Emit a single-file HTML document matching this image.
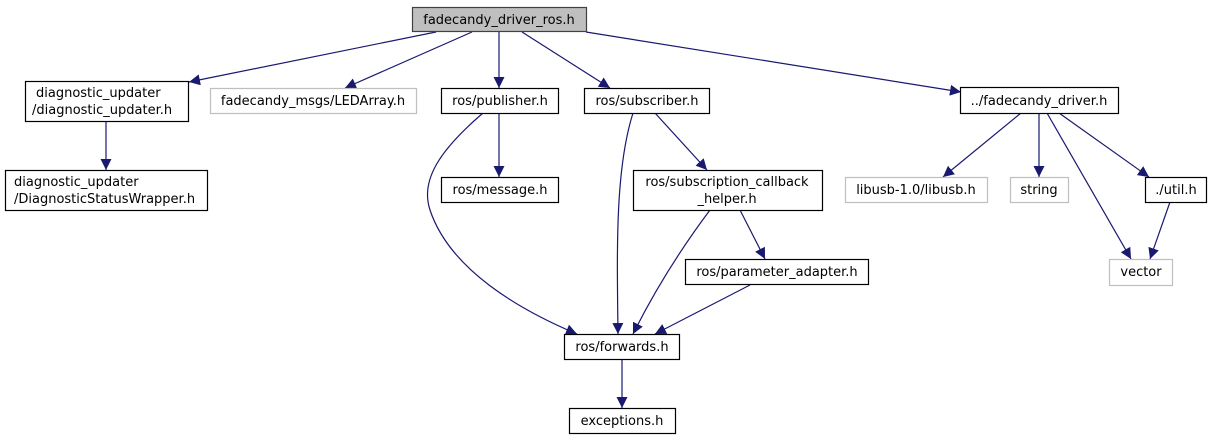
<!DOCTYPE html>
<html><head><meta charset="utf-8"><style>
html,body{margin:0;padding:0;background:#fff;}
svg{display:block;}
text{font-family:"DejaVu Sans","Liberation Sans",sans-serif;font-size:13px;fill:#000;}
</style></head><body>
<svg width="1212" height="440" viewBox="0 0 1212 440" xmlns="http://www.w3.org/2000/svg">
<defs>
<marker id="a" viewBox="0 0 10 10" refX="10" refY="5" markerWidth="11" markerHeight="11" markerUnits="userSpaceOnUse" orient="auto">
<path d="M0,0 L10,5 L0,10 z" fill="#191970"/>
</marker>
</defs>
<g fill="none" stroke="#191970" stroke-width="1.2" marker-end="url(#a)">
<path d="M436,32 L189,82"/>
<path d="M472,32 L345,88"/>
<path d="M499,32 L499,88"/>
<path d="M522,32 L610,88"/>
<path d="M586,32 L961,92"/>
<path d="M106,122 L106,170"/>
<path d="M499,113 L499,177"/>
<path d="M483,113 C440,150 420,180 430,210 C450,270 520,310 577,334"/>
<path d="M633,113 C615,170 617,250 618,334"/>
<path d="M655,113 L707,170"/>
<path d="M710,210 C680,250 655,290 633,334"/>
<path d="M740,210 L765,259"/>
<path d="M750,285 L655,334"/>
<path d="M622,359 L622,408"/>
<path d="M1021,113 L943,177"/>
<path d="M1039,113 L1039,177"/>
<path d="M1047,113 L1131,259"/>
<path d="M1059,113 L1149,177"/>
<path d="M1170,202 L1150,259"/>
</g>
<g stroke-width="1.2">
<rect x="412.5" y="7.5" width="174" height="24" fill="#bfbfbf" stroke="#404040"/>
<rect x="25.5" y="81.5" width="163" height="40" fill="#fff" stroke="#000"/>
<rect x="210.5" y="88.5" width="206" height="25" fill="#fff" stroke="#bfbfbf"/>
<rect x="441.5" y="88.5" width="117" height="25" fill="#fff" stroke="#000"/>
<rect x="584.5" y="88.5" width="125" height="25" fill="#fff" stroke="#000"/>
<rect x="960.5" y="87.5" width="158" height="26" fill="#fff" stroke="#000"/>
<rect x="5.5" y="170.5" width="202" height="40" fill="#fff" stroke="#000"/>
<rect x="441.5" y="177.5" width="117" height="25" fill="#fff" stroke="#000"/>
<rect x="633.5" y="170.5" width="189" height="40" fill="#fff" stroke="#000"/>
<rect x="845.5" y="177.5" width="142" height="25" fill="#fff" stroke="#bfbfbf"/>
<rect x="1010.5" y="177.5" width="58" height="25" fill="#fff" stroke="#bfbfbf"/>
<rect x="1145.5" y="177.5" width="61" height="25" fill="#fff" stroke="#000"/>
<rect x="685.5" y="259.5" width="183" height="25" fill="#fff" stroke="#000"/>
<rect x="1109.5" y="259.5" width="63" height="26" fill="#fff" stroke="#bfbfbf"/>
<rect x="564.5" y="334.5" width="115" height="25" fill="#fff" stroke="#000"/>
<rect x="569.5" y="408.5" width="106" height="25" fill="#fff" stroke="#000"/>
</g>
<g text-anchor="middle">
<text x="499" y="24">fadecandy_driver_ros.h</text>
<text x="36" y="97" text-anchor="start">diagnostic_updater</text>
<text x="32" y="114" text-anchor="start">/diagnostic_updater.h</text>
<text x="313" y="105">fadecandy_msgs/LEDArray.h</text>
<text x="500" y="105">ros/publisher.h</text>
<text x="647" y="105">ros/subscriber.h</text>
<text x="1039" y="105">../fadecandy_driver.h</text>
<text x="14" y="186" text-anchor="start">diagnostic_updater</text>
<text x="14" y="203" text-anchor="start">/DiagnosticStatusWrapper.h</text>
<text x="500" y="194">ros/message.h</text>
<text x="727" y="186">ros/subscription_callback</text>
<text x="727" y="203">_helper.h</text>
<text x="916" y="194">libusb-1.0/libusb.h</text>
<text x="1039" y="194">string</text>
<text x="1176" y="194">./util.h</text>
<text x="777" y="276">ros/parameter_adapter.h</text>
<text x="1141" y="276">vector</text>
<text x="622" y="351">ros/forwards.h</text>
<text x="622" y="425">exceptions.h</text>
</g>
</svg>
</body></html>
